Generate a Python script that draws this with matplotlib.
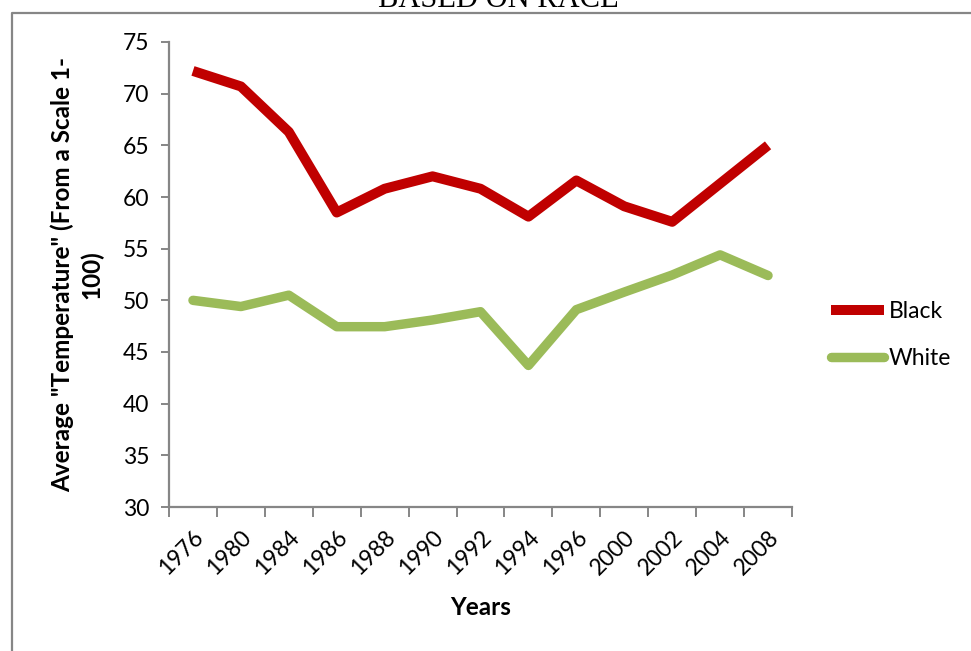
import matplotlib
matplotlib.use("Agg")
import matplotlib.pyplot as plt
from matplotlib.lines import Line2D

# Survey years and average "temperature" ratings by race
years = ["1976", "1980", "1984", "1986", "1988", "1990", "1992",
         "1994", "1996", "2000", "2002", "2004", "2008"]
black = [72.2, 70.7, 66.3, 58.5, 60.8, 62.0, 60.8,
         58.1, 61.6, 59.1, 57.6, 61.3, 65.0]
white = [50.0, 49.4, 50.5, 47.45, 47.45, 48.1, 48.9,
         43.7, 49.1, 50.8, 52.45, 54.4, 52.4]
series_names = ["Black", "White"]
y_ticks = [30, 35, 40, 45, 50, 55, 60, 65, 70, 75]

W, H = 971, 651
fig = plt.figure(figsize=(W / 100, H / 100), dpi=100)
fig.patch.set_facecolor("white")

axis_grey = "#868686"
sans = ["Lato", "DejaVu Sans"]

# outer chart-area frame (left and top edges visible)
fig.add_artist(Line2D([11.7 / W, 11.7 / W, 1.0], [0.0, 1 - 13 / H, 1 - 13 / H],
                      transform=fig.transFigure, color=axis_grey, lw=1.6))

# partially visible chart title
fig.text(498 / W, 1 - 7 / H, "BASED ON RACE", ha="center", va="baseline",
         family=["Liberation Serif", "DejaVu Serif"], fontsize=22, color="black")

ax = fig.add_axes([169 / W, 1 - 507 / H, (792 - 169) / W, (507 - 42) / H])
x = list(range(len(years)))
ax.plot(x, black, color="#C00000", lw=7.2, solid_capstyle="butt",
        solid_joinstyle="round", label=series_names[0], zorder=3)
ax.plot(x, white, color="#9BBB59", lw=6.8, solid_capstyle="round",
        solid_joinstyle="round", label=series_names[1], zorder=3)

ax.set_xlim(-0.5, len(years) - 0.5)
ax.set_ylim(30, 75)

for side in ("top", "right"):
    ax.spines[side].set_visible(False)
for side in ("left", "bottom"):
    ax.spines[side].set_color(axis_grey)
    ax.spines[side].set_linewidth(1.6)

# y axis ticks
ax.set_yticks(y_ticks)
ax.set_yticklabels([str(v) for v in y_ticks], family=sans, fontsize=16.5)
ax.tick_params(axis="y", direction="out", length=6, width=1.4, color=axis_grey, pad=8)

# x axis: major ticks between categories, labels at category centres
ax.set_xticks([i - 0.5 for i in range(len(years) + 1)])
ax.set_xticklabels([])
ax.set_xticks(x, minor=True)
ax.set_xticklabels(years, minor=True, rotation=45, ha="right",
                   rotation_mode="anchor", family=sans, fontsize=16.5)
ax.tick_params(axis="x", which="major", direction="out", length=7, width=1.4,
               color=axis_grey)
ax.tick_params(axis="x", which="minor", length=0, pad=14)

ax.set_xlabel("Years", family=sans, fontsize=17.5, fontweight="bold", labelpad=12)
ax.set_ylabel('Average "Temperature" (From a Scale 1-\n100)', family=sans,
              fontsize=17.5, fontweight="bold", labelpad=14, linespacing=1.3)

ax.legend(loc="center left", bbox_to_anchor=(822 / W, 1 - 335 / H),
          bbox_transform=fig.transFigure, frameon=False,
          prop={"family": sans, "size": 16.5}, handlelength=2.3,
          handletextpad=0.2, labelspacing=1.17, borderaxespad=0)

fig.savefig("out.png", dpi=100, facecolor="white")
